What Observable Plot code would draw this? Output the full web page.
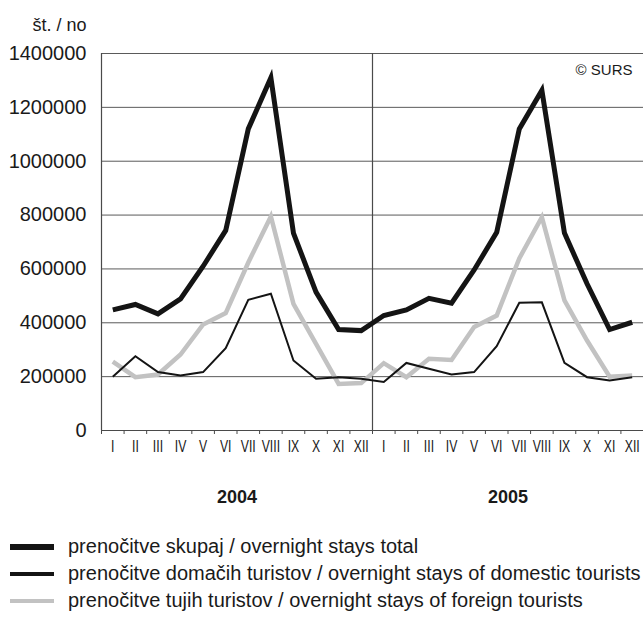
<!DOCTYPE html>
<html>
<head>
<meta charset="utf-8">
<script src="https://cdn.jsdelivr.net/npm/d3@7"></script>
<script src="https://cdn.jsdelivr.net/npm/@observablehq/plot@0.6"></script>
<style>
  html, body { margin: 0; padding: 0; background: #fff; overflow: hidden; }
  body { width: 643px; font-family: "Liberation Sans", Arial, sans-serif; }
  #legend { margin: 0; padding: 0; white-space: nowrap; }
  .row { height: 27px; display: flex; align-items: center; font-size: 20px; color: #1a1a1a; }
  .sw { width: 44px; margin-left: 10px; margin-right: 14px; flex: none; }
</style>
</head>
<body>
<div id="chart"></div>
<div id="legend"></div>
<script>
const months = ["I","II","III","IV","V","VI","VII","VIII","IX","X","XI","XII"];
const years = ["2004", "2005"];
const yTicks = [0, 200000, 400000, 600000, 800000, 1000000, 1200000, 1400000];
const total = [448000, 468000, 433000, 489000, 610000, 743000, 1120000, 1310000, 733000, 514000, 375000, 371000,
               427000, 448000, 491000, 473000, 596000, 736000, 1120000, 1263000, 733000, 545000, 375000, 402000];
const domestic = [200000, 276000, 217000, 204000, 217000, 306000, 485000, 508000, 260000, 192000, 198000, 192000,
                  180000, 251000, 229000, 208000, 217000, 313000, 474000, 476000, 251000, 198000, 186000, 198000];
const foreign = [256000, 198000, 208000, 282000, 394000, 436000, 624000, 795000, 470000, 322000, 173000, 176000,
                 250000, 198000, 266000, 262000, 384000, 427000, 639000, 792000, 483000, 334000, 200000, 204000];
const seriesNames = [
  "prenočitve skupaj / overnight stays total",
  "prenočitve domačih turistov / overnight stays of domestic tourists",
  "prenočitve tujih turistov / overnight stays of foreign tourists"
];

const n = years.length * months.length;
const idx = d3.range(n);
const rows = idx.map(i => ({i, total: total[i], domestic: domestic[i], foreign: foreign[i]}));
const boundaries = d3.range(n + 1).map(k => k - 0.5);
const yearPos = years.map((y, k) => ({year: y, x: d3.mean(d3.range(k * 12, k * 12 + 12))}));
const dividers = years.slice(1).map((y, k) => (k + 1) * months.length - 0.5);

const dark = "#141414";
const gray = "#c2c2c2";
const gridC = "#5a5a5a";

const chart = Plot.plot({
  width: 643,
  height: 533,
  marginLeft: 101,
  marginRight: 0,
  marginTop: 53,
  marginBottom: 103,
  style: {fontFamily: "'Liberation Sans', Arial, sans-serif", background: "#fff", overflow: "visible"},
  x: {type: "linear", domain: [-0.5, n - 0.5], axis: null},
  y: {domain: [0, 1400000], axis: null},
  marks: [
    Plot.ruleY(yTicks, {stroke: gridC, strokeWidth: 1}),
    Plot.ruleX([-0.5, ...dividers], {stroke: "#4a4a4a", strokeWidth: 1.2}),
    Plot.axisY({ticks: yTicks, tickSize: 0, tickPadding: 15, tickFormat: d => String(d), fontSize: 20, fill: "#1a1a1a"}),
    Plot.axisX({ticks: boundaries, tickSize: 4, tickFormat: () => "", stroke: "#4a4a4a"}),
    Plot.axisX({ticks: idx, tickSize: 0, tickPadding: 9, tickFormat: i => months[i % 12], fontSize: 17, fill: "#1a1a1a", className: "roman"}),
    Plot.line(rows, {x: "i", y: "foreign", stroke: gray, strokeWidth: 4.5, strokeLinejoin: "miter", strokeLinecap: "butt", strokeMiterlimit: 4}),
    Plot.line(rows, {x: "i", y: "domestic", stroke: dark, strokeWidth: 2, strokeLinejoin: "miter", strokeLinecap: "butt", strokeMiterlimit: 4}),
    Plot.line(rows, {x: "i", y: "total", stroke: dark, strokeWidth: 5, strokeLinejoin: "miter", strokeLinecap: "butt", strokeMiterlimit: 4}),
    Plot.ruleY([0], {stroke: "#4a4a4a", strokeWidth: 1.2}),
    Plot.text(yearPos, {x: "x", y: () => 0, text: "year", dy: 67, fontSize: 18, fontWeight: "bold", fill: "#1a1a1a"}),
    Plot.text(["št. / no"], {frameAnchor: "top-left", textAnchor: "end", lineAnchor: "middle", dx: -15, dy: -28, fontSize: 18, fill: "#1a1a1a"}),
    Plot.text(["© SURS"], {frameAnchor: "top-right", textAnchor: "end", lineAnchor: "middle", dx: -11, dy: 17, fontSize: 15, fill: "#1a1a1a"})
  ]
});
// condense the Roman month labels horizontally (narrow face, as in the original)
d3.select(chart).selectAll(".roman text").each(function() {
  const t = this.getAttribute("transform");
  if (t) this.setAttribute("transform", t + " scale(0.72,1)");
});
document.getElementById("chart").appendChild(chart);

const legend = document.getElementById("legend");
const swatches = [{c: dark, w: 6}, {c: dark, w: 4}, {c: gray, w: 4}];
seriesNames.forEach((name, k) => {
  const row = document.createElement("div");
  row.className = "row";
  const sw = document.createElement("div");
  sw.className = "sw";
  sw.style.height = swatches[k].w + "px";
  sw.style.background = swatches[k].c;
  const t = document.createElement("span");
  t.textContent = name;
  row.appendChild(sw);
  row.appendChild(t);
  legend.appendChild(row);
});
</script>
</body>
</html>
